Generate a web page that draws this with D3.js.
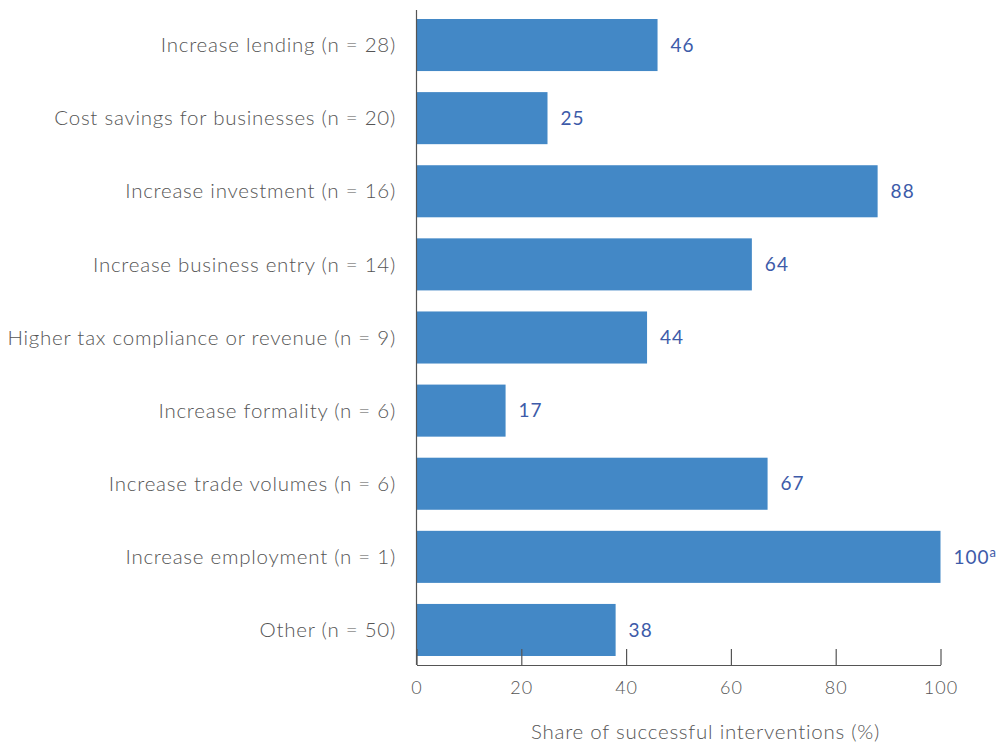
<!DOCTYPE html>
<html>
<head>
<meta charset="utf-8">
<script src="https://cdn.jsdelivr.net/npm/d3@7"></script>
<style>
  html, body { margin: 0; padding: 0; background: #fff; }
  svg { display: block; }
  text { font-family: "Lato", "Open Sans", sans-serif; font-weight: 300; }
</style>
</head>
<body>
<svg id="chart" width="996" height="744"></svg>
<script>
// Outcome categories and the share of successful interventions (%)
const categories = [
  "Increase lending (n = 28)",
  "Cost savings for businesses (n = 20)",
  "Increase investment (n = 16)",
  "Increase business entry (n = 14)",
  "Higher tax compliance or revenue (n = 9)",
  "Increase formality (n = 6)",
  "Increase trade volumes (n = 6)",
  "Increase employment (n = 1)",
  "Other (n = 50)"
];
const shares = [46, 25, 88, 64, 44, 17, 67, 100, 38];
const valueNotes = ["", "", "", "", "", "", "", "a", ""];
const tickValues = [0, 20, 40, 60, 80, 100];
const axisTitle = "Share of successful interventions (%)";

const svg = d3.select("#chart");
const margin = { top: 10, left: 416.5, right: 56, bottom: 79 };
const W = 996, H = 744;
const plotBottom = H - margin.bottom;

const x = d3.scaleLinear().domain([0, 100]).range([margin.left, 940.5]);
const y = d3.scaleBand().domain(categories)
  .range([margin.top + 9, plotBottom - 10 + 1]).paddingInner(0.288).paddingOuter(0);

const data = categories.map((c, i) => ({ c, v: shares[i], note: valueNotes[i] }));

// Bars
svg.append("g").selectAll("rect").data(data).join("rect")
  .attr("x", x(0))
  .attr("y", d => y(d.c))
  .attr("width", d => x(d.v) - x(0))
  .attr("height", y.bandwidth())
  .attr("fill", "#4388c6");

// Vertical baseline
svg.append("line")
  .attr("x1", x(0)).attr("x2", x(0))
  .attr("y1", margin.top).attr("y2", plotBottom)
  .attr("stroke", "#555").attr("stroke-width", 1.2);

// Bottom axis with ticks pointing upward
const xAxis = d3.axisBottom(x).tickValues(tickValues).tickSizeInner(-16).tickSizeOuter(0).tickPadding(0);
const gx = svg.append("g").attr("transform", `translate(0,${plotBottom})`).call(xAxis);
gx.select(".domain").attr("stroke", "#555").attr("stroke-width", 1.2);
gx.selectAll(".tick line").attr("stroke", "#555").attr("stroke-width", 1.2);
gx.selectAll(".tick text")
  .attr("y", 23).attr("dy", "0.35em")
  .attr("fill", "#555").attr("font-size", 18)
  .style("letter-spacing", "1px")
  .style("font-family", "Lato, sans-serif").style("font-weight", 300);

// Category labels
svg.append("g").selectAll("text").data(data).join("text")
  .attr("x", 396)
  .attr("y", d => y(d.c) + y.bandwidth() / 2)
  .attr("dy", "0.35em")
  .attr("text-anchor", "end")
  .attr("fill", "#555")
  .attr("font-size", 20.5)
  .style("letter-spacing", "0.75px")
  .text(d => d.c);

// Value labels
const vl = svg.append("g").selectAll("text").data(data).join("text")
  .attr("x", d => x(d.v) + 13)
  .attr("y", d => y(d.c) + y.bandwidth() / 2)
  .attr("dy", "0.35em")
  .attr("fill", "#3d5ba9")
  .attr("font-size", 19)
  .style("font-weight", 400)
  .style("letter-spacing", "1px")
  .text(d => d.v);
vl.filter(d => d.note).append("tspan")
  .attr("dy", "-0.5em")
  .attr("font-size", 13)
  .text(d => d.note);

// Axis title
svg.append("text")
  .attr("x", x(50) + 27).attr("y", 732).attr("dy", "0.35em")
  .attr("text-anchor", "middle")
  .attr("fill", "#555").attr("font-size", 20.5)
  .style("letter-spacing", "0.75px")
  .text(axisTitle);
</script>
</body>
</html>
